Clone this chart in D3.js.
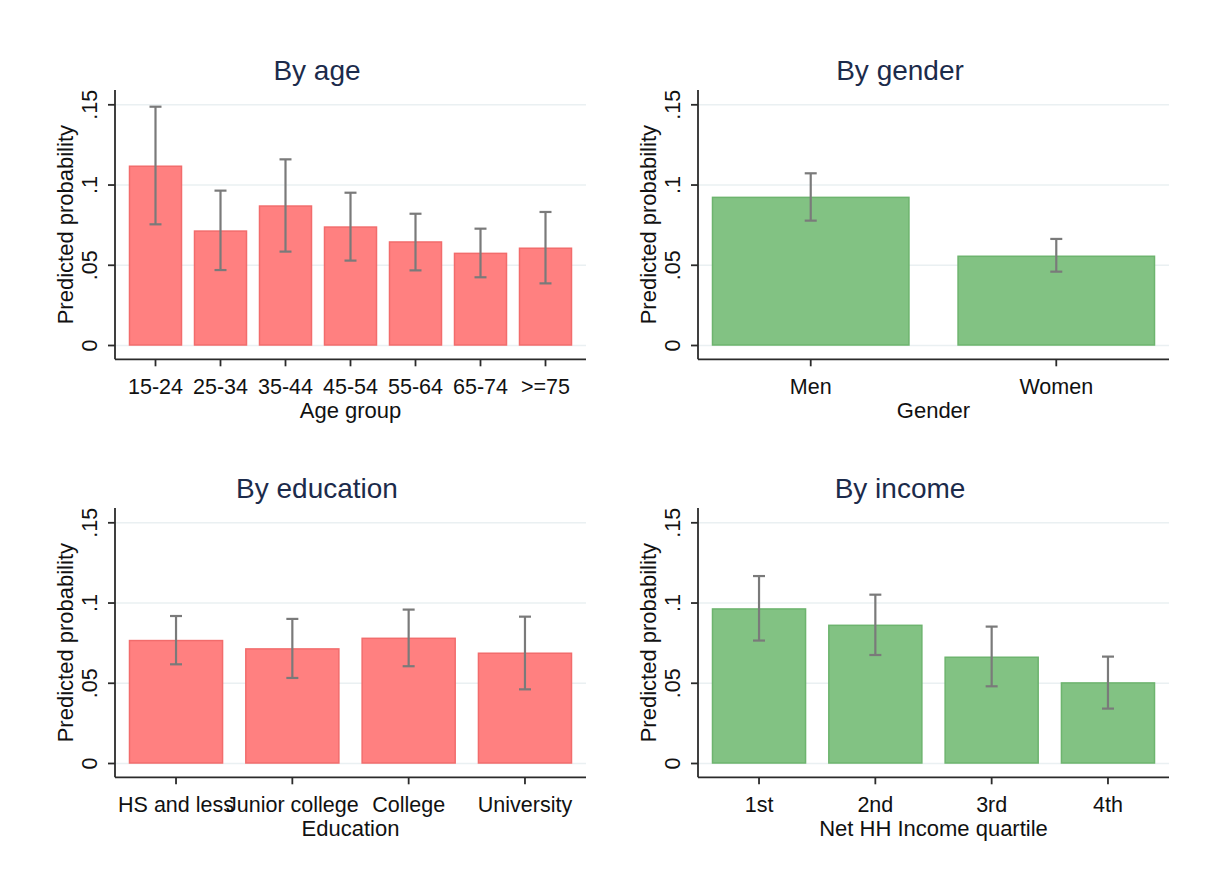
<!DOCTYPE html>
<html>
  <head>
    <meta charset="utf-8">
    <title>Predicted probability by group</title>
    <script src="https://d3js.org/d3.v7.min.js"></script>
    <style>
      body { margin: 0; background: #fff; }
      .chart { font-family: "Liberation Sans", Arial, sans-serif; }
      .axis path, .axis line { fill: none; stroke: #2b2b2b; stroke-width: 1.8; }
      .grid line { stroke: #eaf0f2; stroke-width: 1.6; }
      .grid path { display: none; }
      .ptitle { fill: #1c2b4b; font-size: 28px; }
      .atitle { fill: #111; font-size: 22px; }
      .tick text { fill: #111; font-size: 21.5px; }
      .err { stroke: #7a7a7a; stroke-width: 2.2; fill: none; }
    </style>
  </head>
  <body>
    <svg class="chart" width="1207" height="883"></svg>
    <script>
      // Data: point estimate with lower and upper CI
      const ageGroups = ["15-24", "25-34", "35-44", "45-54", "55-64", "65-74", ">=75"];
      const ageProb  = [0.1114, 0.0710, 0.0866, 0.0735, 0.0642, 0.0571, 0.0603];
      const ageLow   = [0.0752, 0.0467, 0.0582, 0.0526, 0.0465, 0.0422, 0.0384];
      const ageHigh  = [0.1485, 0.0962, 0.1157, 0.0949, 0.0818, 0.0725, 0.0829];

      const genders    = ["Men", "Women"];
      const genderProb = [0.0920, 0.0553];
      const genderLow  = [0.0775, 0.0457];
      const genderHigh = [0.1070, 0.0661];

      const eduLevels = ["HS and less", "Junior college", "College", "University"];
      const eduProb   = [0.0763, 0.0711, 0.0777, 0.0684];
      const eduLow    = [0.0615, 0.0530, 0.0603, 0.0459];
      const eduHigh   = [0.0916, 0.0898, 0.0956, 0.0912];

      const incomeQ    = ["1st", "2nd", "3rd", "4th"];
      const incomeProb = [0.0960, 0.0858, 0.0659, 0.0499];
      const incomeLow  = [0.0763, 0.0673, 0.0478, 0.0339];
      const incomeHigh = [0.1165, 0.1049, 0.0850, 0.0663];

      const yTicks = [0, 0.05, 0.1, 0.15];
      const yTickLabels = ["0", ".05", ".1", ".15"];

      const red = { fill: "#ff8080", stroke: "#f26c6c" };
      const green = { fill: "#82c283", stroke: "#6db46e" };

      const panels = [
        { title: "By age", xTitle: "Age group", cats: ageGroups, p: ageProb, lo: ageLow, hi: ageHigh, col: red, ox: 0, oy: 0 },
        { title: "By gender", xTitle: "Gender", cats: genders, p: genderProb, lo: genderLow, hi: genderHigh, col: green, ox: 583, oy: 0 },
        { title: "By education", xTitle: "Education", cats: eduLevels, p: eduProb, lo: eduLow, hi: eduHigh, col: red, ox: 0, oy: 418 },
        { title: "By income", xTitle: "Net HH Income quartile", cats: incomeQ, p: incomeProb, lo: incomeLow, hi: incomeHigh, col: green, ox: 583, oy: 418 }
      ];

      // plot region of the top-left panel, the others are shifted copies
      const plotLeft = 115, plotRight = 586, plotTop = 90, plotBottom = 359.3;
      const plotW = plotRight - plotLeft;
      const outerGap = 14.5;

      const svg = d3.select(".chart");

      panels.forEach(pn => {
        const g = svg.append("g")
          .attr("transform", "translate(" + pn.ox + "," + pn.oy + ")");

        const n = pn.cats.length;
        const step = (plotW - 2 * outerGap) / (n - 0.2);

        const x = d3.scaleBand()
          .domain(pn.cats)
          .range([plotLeft, plotRight])
          .paddingInner(0.2)
          .paddingOuter(outerGap / step);

        // 0 sits at 345 and .15 at 104.3 in the picture
        const y = d3.scaleLinear()
          .domain([0, 0.15])
          .range([345, 104.3]);

        // gridlines
        g.append("g")
          .attr("class", "grid")
          .attr("transform", "translate(" + plotLeft + ",0)")
          .call(d3.axisRight(y).tickValues(yTicks).tickSize(plotW).tickFormat(""));

        // bars
        g.selectAll(".bar")
          .data(pn.cats)
          .enter().append("rect")
          .attr("class", "bar")
          .attr("x", d => x(d))
          .attr("width", x.bandwidth())
          .attr("y", (d, i) => y(pn.p[i]))
          .attr("height", (d, i) => y(0) - y(pn.p[i]))
          .attr("fill", pn.col.fill)
          .attr("stroke", pn.col.stroke)
          .attr("stroke-width", 1.5);

        // error bars
        const cap = 6;
        const eb = g.selectAll(".eb")
          .data(pn.cats)
          .enter().append("g")
          .attr("class", "err");
        eb.append("line")
          .attr("x1", d => x(d) + x.bandwidth() / 2)
          .attr("x2", d => x(d) + x.bandwidth() / 2)
          .attr("y1", (d, i) => y(pn.lo[i]))
          .attr("y2", (d, i) => y(pn.hi[i]));
        eb.append("line")
          .attr("x1", d => x(d) + x.bandwidth() / 2 - cap)
          .attr("x2", d => x(d) + x.bandwidth() / 2 + cap)
          .attr("y1", (d, i) => y(pn.hi[i]))
          .attr("y2", (d, i) => y(pn.hi[i]));
        eb.append("line")
          .attr("x1", d => x(d) + x.bandwidth() / 2 - cap)
          .attr("x2", d => x(d) + x.bandwidth() / 2 + cap)
          .attr("y1", (d, i) => y(pn.lo[i]))
          .attr("y2", (d, i) => y(pn.lo[i]));

        // y axis
        const yAxis = g.append("g")
          .attr("class", "axis")
          .attr("transform", "translate(" + plotLeft + ",0)")
          .call(d3.axisLeft(y).tickValues(yTicks).tickSize(7).tickSizeOuter(0)
            .tickFormat((d, i) => yTickLabels[i]));
        yAxis.select(".domain").attr("d", "M0," + plotTop + "V" + plotBottom);
        yAxis.selectAll(".tick text")
          .attr("x", null).attr("dy", null)
          .attr("text-anchor", "middle")
          .attr("transform", "translate(-17.7,0) rotate(-90)");

        // x axis
        const xAxis = g.append("g")
          .attr("class", "axis")
          .attr("transform", "translate(0," + plotBottom + ")")
          .call(d3.axisBottom(x).tickSize(7).tickSizeOuter(0));
        xAxis.select(".domain").attr("d", "M" + plotLeft + ",0H" + plotRight);
        xAxis.selectAll(".tick text")
          .attr("y", 35).attr("dy", null);

        // titles
        g.append("text")
          .attr("class", "ptitle")
          .attr("x", 317).attr("y", 80)
          .attr("text-anchor", "middle")
          .text(pn.title);

        g.append("text")
          .attr("class", "atitle")
          .attr("x", (plotLeft + plotRight) / 2).attr("y", plotBottom + 58.3)
          .attr("text-anchor", "middle")
          .text(pn.xTitle);

        g.append("text")
          .attr("class", "atitle")
          .attr("transform", "translate(" + (plotLeft - 41.7) + "," + ((plotTop + plotBottom) / 2) + ") rotate(-90)")
          .attr("text-anchor", "middle")
          .text("Predicted probability");
      });
    </script>
  </body>
</html>
